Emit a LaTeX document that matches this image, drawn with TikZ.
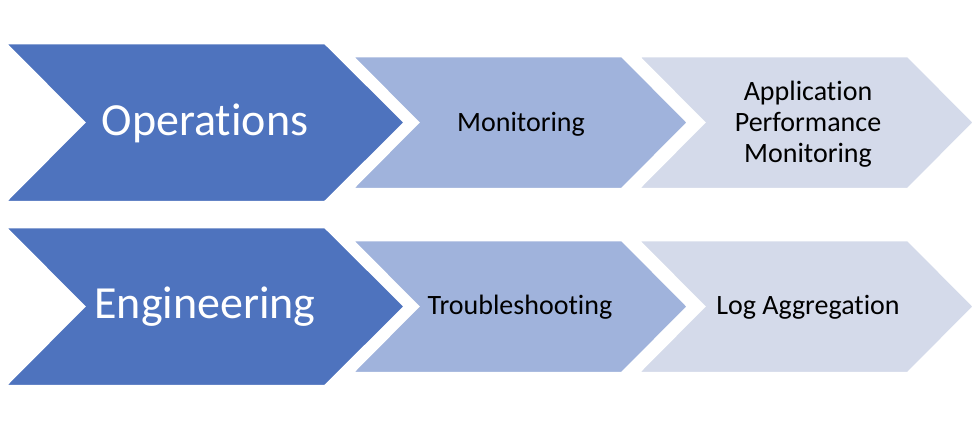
\documentclass[tikz,border=0pt]{standalone}
\usepackage{fontspec}
\setmainfont{Carlito}[Ligatures=NoCommon]
\definecolor{cdark}{HTML}{4E73BE}
\definecolor{cmid}{HTML}{A0B3DC}
\definecolor{clight}{HTML}{D4DAEA}
\begin{document}
\begin{tikzpicture}[x=1pt,y=-1pt,
  chev/.style={draw=white,line width=2.5pt,line join=miter},
  bigtxt/.style={text=white,font=\fontsize{46}{50}\selectfont,anchor=base,inner sep=0pt},
  smalltxt/.style={text=black,font=\fontsize{28}{31}\selectfont,anchor=base,inner sep=0pt,align=center}]
\useasboundingbox (0,0) rectangle (974,424);
\fill[white] (0,0) rectangle (974,424);
% top row
\draw[chev,fill=clight] (638,56) -- (908,56) -- (974,122.5) -- (908,189) -- (638,189) -- (704,122.5) -- cycle;
\draw[chev,fill=cmid] (352,56) -- (622,56) -- (688,122.5) -- (622,189) -- (352,189) -- (418,122.5) -- cycle;
\draw[chev,fill=cdark] (5,43) -- (325,43) -- (405,122.5) -- (325,202) -- (5,202) -- (84,122.5) -- cycle;
% bottom row
\begin{scope}[yshift=-184pt]
\draw[chev,fill=clight] (638,56) -- (908,56) -- (974,122.5) -- (908,189) -- (638,189) -- (704,122.5) -- cycle;
\draw[chev,fill=cmid] (352,56) -- (622,56) -- (688,122.5) -- (622,189) -- (352,189) -- (418,122.5) -- cycle;
\draw[chev,fill=cdark] (5,43) -- (325,43) -- (405,122.5) -- (325,202) -- (5,202) -- (84,122.5) -- cycle;
\end{scope}
% texts
\node[bigtxt] (ops) at (205,135) {Operations};
\node[smalltxt] (mon) at (521,131) {Monitoring};
\node[smalltxt,anchor=center] (apm) at (808,124) {Application\\Performance\\Monitoring};
\node[bigtxt] (eng) at (205,318) {Engineering};
\node[smalltxt] (trb) at (520,314) {Troubleshooting};
\node[smalltxt] (log) at (808,314) {Log Aggregation};
\end{tikzpicture}
\end{document}
